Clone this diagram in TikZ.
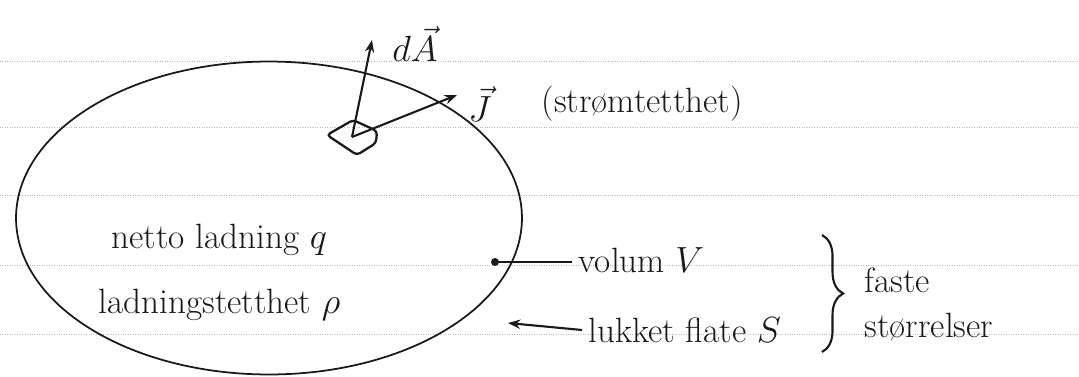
\documentclass[tikz,border=0pt]{standalone}
\usepackage{amsmath,amssymb}
\usepackage{fontspec}
\usetikzlibrary{arrows.meta, positioning, shapes.geometric, decorations.pathreplacing}
\definecolor{ink}{RGB}{25,25,25}
\definecolor{paperline}{RGB}{185,185,185}
\newcommand{\handsize}{\fontsize{20}{24}\selectfont}

\begin{document}
\begin{tikzpicture}[x=0.02cm, y=-0.02cm, line width=1pt, draw=ink, text=ink]
  \useasboundingbox (0,0) rectangle (1079,376);
  % notebook lines
  \foreach \yy in {61,127,195,265,334}
    \draw[paperline, line width=0.4pt, densely dotted] (0,\yy) -- (1079,\yy);

  % closed surface S and the patch dA
  \node[draw, ellipse, minimum width=10.12cm, minimum height=6.26cm] (surface) at (269,218) {};
  \draw[line width=1.3pt, rounded corners=2pt] (327,135) -- (353,120) -- (377,131) -- (376,143) -- (357,155) -- cycle;
  \coordinate (patch) at (352,137);
  \coordinate (dAtip) at (372,40);
  \coordinate (Jtip) at (457,95);
  \draw[-{Stealth[length=7pt]}, line width=1.2pt] (patch) -- (dAtip);
  \draw[-{Stealth[length=7pt]}, line width=1.2pt] (patch) -- (Jtip);
  \node[font=\handsize] (dA) at (415,44) {$d\vec{A}$};
  \node[font=\handsize] (J) at (480,104) {$\vec{J}$};
  \node[font=\handsize, anchor=west] (strom) at (535,104) {(strømtetthet)};

  % inside the volume
  \node[font=\handsize, anchor=west] (netto) at (105,240) {netto ladning $q$};
  \node[font=\handsize, anchor=west] (rho) at (92,305) {ladningstetthet $\rho$};

  % fixed quantities
  \coordinate (Vdot) at (495,262);
  \coordinate (Stip) at (508,323);
  \node[font=\handsize, anchor=west] (volum) at (572,260) {volum $V$};
  \node[font=\handsize, anchor=west] (flate) at (582,330) {lukket flate $S$};
  \fill[ink] (Vdot) circle (4);
  \draw[line width=1.2pt] (Vdot) -- (Vdot -| volum.west);
  \draw[-{Stealth[length=7pt]}, line width=1.2pt] (flate.west) -- (Stip);
  \draw[decorate, decoration={brace, amplitude=12}, line width=1.2pt] (822,235) -- (822,352);
  \node[font=\handsize, anchor=west] (faste) at (858,280) {faste};
  \node[font=\handsize, anchor=west] (storrelser) at (858,327) {størrelser};
\end{tikzpicture}
\end{document}
